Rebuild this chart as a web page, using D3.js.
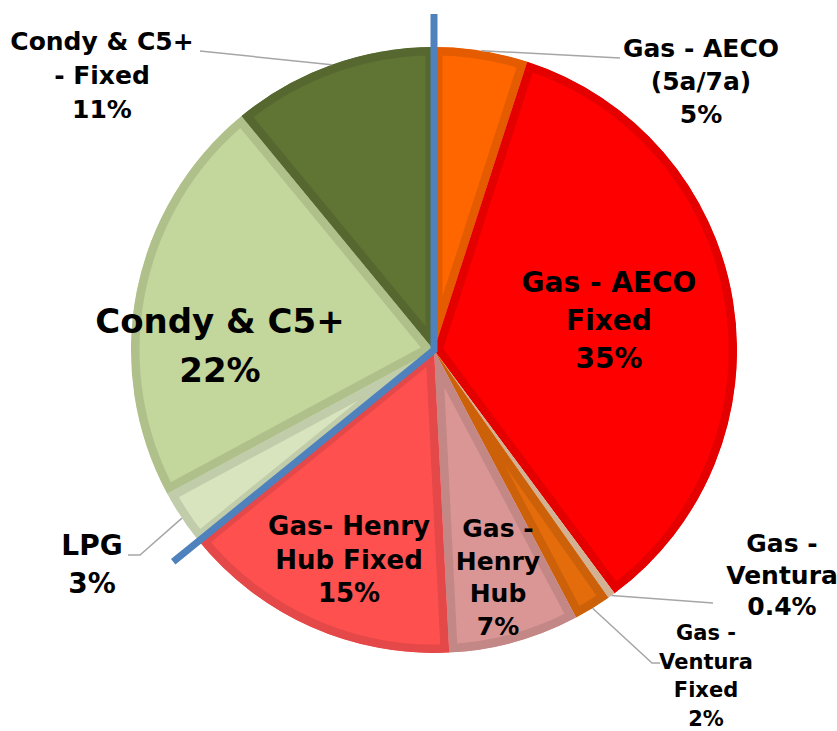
<!DOCTYPE html>
<html>
<head>
<meta charset="utf-8">
<script src="https://cdn.jsdelivr.net/npm/d3@7"></script>
<style>
  html, body { margin: 0; padding: 0; background: #fff; }
  svg { display: block; }
  text { font-family: "DejaVu Sans", Verdana, sans-serif; font-weight: bold; fill: #000; }
</style>
</head>
<body>
<svg id="chart" width="837" height="731"></svg>
<script>
// Commodity mix, share of total (%)
const categories = [
  "Gas - AECO (5a/7a)", "Gas - AECO Fixed", "Gas - Ventura", "Gas - Ventura Fixed",
  "Gas - Henry Hub", "Gas- Henry Hub Fixed", "LPG", "Condy & C5+", "Condy & C5+ - Fixed"
];
const shares = [5, 35, 0.4, 2, 7, 15, 3, 22, 11];
const shareLabels = ["5%", "35%", "0.4%", "2%", "7%", "15%", "3%", "22%", "11%"];
// Label text, one entry per line (the share is appended as the last line)
const labelLines = [
  ["Gas - AECO", "(5a/7a)"],
  ["Gas - AECO", "Fixed"],
  ["Gas -", "Ventura"],
  ["Gas -", "Ventura", "Fixed"],
  ["Gas -", "Henry", "Hub"],
  ["Gas- Henry", "Hub Fixed"],
  ["LPG"],
  ["Condy & C5+"],
  ["Condy & C5+", "- Fixed"]
];
// Slices that belong to the gas group (separated from liquids by the divider)
const gasCount = 6;

const fills = ["#FF6600", "#FF0000", "#EBC6A4", "#E46C0A", "#D99694",
               "#FF5050", "#D7E4BD", "#C3D69B", "#607434"];

// Label layout: anchor x, first baseline y, font size, line step, leader end
const labelLayout = [
  { x: 701, y: 57,  size: 25, step: 33, leader: [[620, 58]] },
  { x: 609, y: 292, size: 28, step: 38 },
  { x: 782, y: 552, size: 25, step: 31.5, leader: [[713, 603]] },
  { x: 706, y: 640, size: 21, step: 28.5, leader: [[652, 663], [660, 663]] },
  { x: 498, y: 537, size: 25, step: 32.5 },
  { x: 349, y: 535, size: 26, step: 33.5 },
  { x: 92,  y: 555, size: 28, step: 38, leader: [[140, 555], [128, 555]] },
  { x: 220, y: 333, size: 34, step: 49 },
  { x: 102, y: 50,  size: 25, step: 34, leader: [[200, 51]] }
];

const svg = d3.select("#chart");
const cx = 434, cy = 350, R = 303;

const pie = d3.pie().value(d => d).sort(null);
const arcs = pie(shares);
const arc = d3.arc().innerRadius(0).outerRadius(R);

const g = svg.append("g").attr("transform", `translate(${cx},${cy})`);
const defs = svg.append("defs");

// Each slice: flat fill with a darker band running along its inner edge
arcs.forEach((a, i) => {
  const id = "clip" + i;
  defs.append("clipPath").attr("id", id)
    .attr("transform", `translate(${cx},${cy})`)
    .append("path").attr("d", arc(a));
  const s = g.append("g").attr("clip-path", `url(#${id})`)
    .attr("transform", `translate(${-cx},${-cy})`)
    .append("g").attr("transform", `translate(${cx},${cy})`);
  s.append("path")
    .attr("d", arc(a))
    .attr("fill", fills[i])
    .attr("stroke", d3.color(fills[i]).darker(0.3))
    .attr("stroke-width", 17)
    .attr("stroke-linejoin", "miter");
});

// Leader lines for the outside labels
const edge = d3.arc().innerRadius(R).outerRadius(R);
arcs.forEach((a, i) => {
  const L = labelLayout[i];
  if (!L.leader) return;
  const mid = (a.startAngle + a.endAngle) / 2;
  const p0 = [cx + R * Math.sin(mid), cy - R * Math.cos(mid)];
  svg.append("path")
    .attr("d", d3.line()([p0, ...L.leader]))
    .attr("fill", "none")
    .attr("stroke", "#A6A6A6")
    .attr("stroke-width", 1.5);
});

// Divider between gas and liquids: up the 12 o'clock radius, out along the group boundary
const Rd = 336;
const split = arcs[gasCount - 1].endAngle;
svg.append("path")
  .attr("d", d3.line()([
    [cx, cy - Rd],
    [cx, cy],
    [cx + Rd * Math.sin(split), cy - Rd * Math.cos(split)]
  ]))
  .attr("fill", "none")
  .attr("stroke", "#4F81BD")
  .attr("stroke-width", 7)
  .attr("stroke-linejoin", "miter");

// Labels
arcs.forEach((a, i) => {
  const L = labelLayout[i];
  const lines = labelLines[i].concat([shareLabels[i]]);
  const t = svg.append("text")
    .attr("text-anchor", "middle")
    .style("font-size", L.size + "px");
  lines.forEach((ln, k) => {
    t.append("tspan").attr("x", L.x).attr("y", L.y + k * L.step).text(ln);
  });
});
</script>
</body>
</html>
